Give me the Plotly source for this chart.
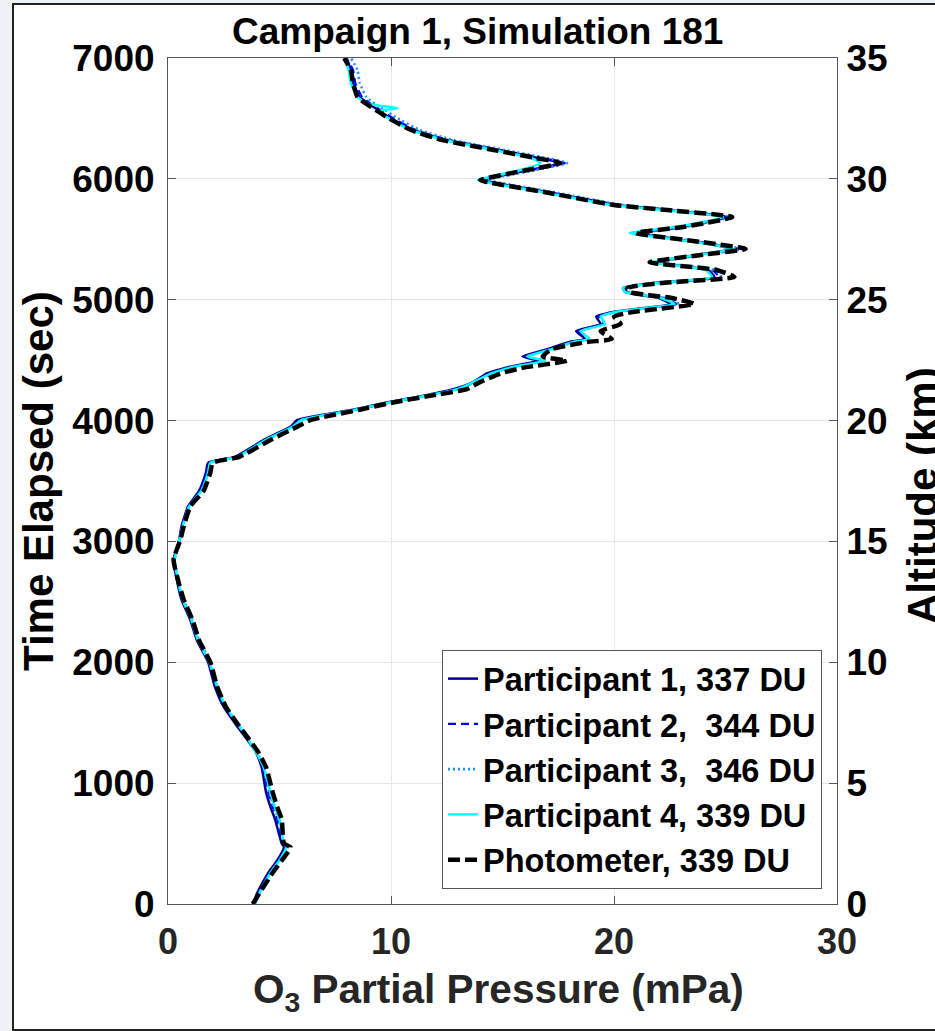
import plotly.graph_objects as go

# Time elapsed (s) shared sampling grid
time_s = [0, 90, 260, 360, 470, 500, 700, 800, 920, 1130,
          1270, 1470, 1630, 1800, 2000, 2180, 2350, 2520, 2680, 2850,
          3010, 3120, 3290, 3420, 3570, 3650, 3700, 3840, 3950, 4005,
          4090, 4150, 4200, 4260, 4310, 4390, 4440, 4495, 4530, 4590,
          4650, 4675, 4740, 4800, 4860, 4900, 4965, 5014, 5064, 5097,
          5138, 5188, 5246, 5310, 5370, 5420, 5478, 5552, 5602, 5684,
          5742, 5784, 5883, 5974, 5990, 6073, 6131, 6172, 6239, 6321,
          6404, 6512, 6560, 6585, 6620, 6677, 6793, 6900, 7000]

# O3 partial pressure (mPa)
participant1 = [3.8, 4.0, 4.5, 4.9, 5.2, 5.1, 4.8, 4.6, 4.4, 4.2,
                3.9, 3.1, 2.5, 2.1, 1.8, 1.3, 1.0, 0.6, 0.4, 0.25,
                0.5, 0.6, 0.9, 1.4, 1.7, 1.8, 3.0, 4.3, 5.5, 5.8,
                8.3, 9.8, 11.3, 12.8, 13.6, 14.3, 15.2, 16.6, 15.9, 17.0,
                18.0, 18.7, 18.3, 19.4, 19.2, 20.0, 22.5, 22.0, 20.5, 20.4,
                21.8, 24.5, 24.2, 21.8, 23.7, 25.3, 23.7, 21.2, 23.0, 25.0,
                22.4, 20.1, 17.2, 14.4, 14.0, 16.2, 17.7, 16.6, 14.8, 12.5,
                11.0, 9.9, 9.5, 9.3, 9.0, 8.6, 8.3, 8.2, 8.0]

participant2 = [3.85, 4.05, 4.55, 4.95, 5.3, 5.15, 4.9, 4.7, 4.5, 4.25,
                3.9, 3.15, 2.55, 2.15, 1.85, 1.35, 1.05, 0.65, 0.42, 0.28,
                0.5, 0.62, 0.92, 1.45, 1.75, 1.85, 3.05, 4.35, 5.55, 5.9,
                8.35, 9.85, 11.35, 12.9, 13.6, 14.4, 15.3, 16.8, 16.0, 17.1,
                18.1, 18.8, 18.4, 19.5, 19.3, 20.1, 22.8, 22.2, 20.6, 20.5,
                22.0, 24.7, 24.4, 21.9, 23.9, 25.6, 23.8, 21.2, 23.1, 25.1,
                22.5, 20.2, 17.3, 14.5, 14.1, 16.3, 17.8, 16.8, 14.9, 12.6,
                11.1, 10.0, 9.6, 9.4, 9.1, 8.7, 8.4, 8.3, 8.0]

participant3 = [3.9, 4.1, 4.6, 5.0, 5.35, 5.2, 4.95, 4.75, 4.55, 4.3,
                3.95, 3.2, 2.6, 2.2, 1.9, 1.4, 1.1, 0.7, 0.45, 0.3,
                0.55, 0.65, 0.95, 1.5, 1.8, 1.9, 3.1, 4.4, 5.6, 6.0,
                8.5, 10.0, 11.5, 13.0, 13.7, 14.5, 15.4, 16.9, 16.1, 17.2,
                18.2, 18.9, 18.5, 19.6, 19.4, 20.2, 22.9, 22.3, 20.7, 20.6,
                22.1, 24.8, 24.5, 22.0, 24.0, 25.7, 23.9, 21.3, 23.2, 25.2,
                22.7, 20.4, 17.5, 14.7, 14.3, 16.5, 17.9, 17.0, 15.1, 12.8,
                11.3, 10.2, 9.8, 9.6, 9.3, 8.9, 8.6, 8.5, 8.2]

participant4 = [3.9, 4.1, 4.6, 5.0, 5.3, 5.2, 5.0, 4.8, 4.6, 4.3,
                3.9, 3.2, 2.6, 2.2, 1.85, 1.35, 1.05, 0.65, 0.45, 0.3,
                0.5, 0.65, 0.95, 1.5, 1.8, 1.9, 3.1, 4.4, 5.6, 6.0,
                8.4, 9.9, 11.4, 13.0, 13.6, 14.5, 15.4, 16.9, 16.1, 17.2,
                18.2, 18.9, 18.5, 19.6, 19.4, 20.1, 22.7, 22.1, 20.5, 20.4,
                21.9, 24.4, 24.1, 21.7, 23.8, 25.4, 23.6, 20.7, 22.8, 24.9,
                22.2, 19.9, 17.0, 14.2, 13.9, 15.8, 16.7, 16.3, 14.6, 12.4,
                10.9, 9.8, 9.4, 10.3, 9.0, 8.5, 8.2, 8.1, 7.9]

photometer = [3.8, 4.1, 4.7, 5.1, 5.5, 5.2, 5.1, 4.9, 4.7, 4.4,
              4.0, 3.2, 2.6, 2.2, 1.9, 1.4, 1.1, 0.7, 0.45, 0.25,
              0.55, 0.7, 1.0, 1.6, 1.9, 2.0, 3.2, 4.6, 5.8, 6.4,
              8.6, 10.1, 11.6, 13.4, 13.9, 14.9, 16.0, 17.9, 16.8, 17.2,
              18.8, 19.9, 19.4, 20.3, 20.0, 20.9, 23.6, 22.6, 20.7, 20.6,
              22.1, 25.4, 24.6, 21.6, 23.9, 25.9, 23.9, 21.0, 23.1, 25.3,
              22.4, 20.0, 17.1, 14.3, 14.0, 16.1, 17.6, 16.5, 14.6, 12.3,
              10.9, 9.8, 9.4, 9.2, 8.9, 8.5, 8.3, 8.2, 7.9]

series_names = ["Participant 1, 337 DU", "Participant 2,  344 DU",
                "Participant 3,  346 DU", "Participant 4, 339 DU",
                "Photometer, 339 DU"]

x_ticks = [0, 10, 20, 30]
y_ticks = [0, 1000, 2000, 3000, 4000, 5000, 6000, 7000]
alt_ticks = [0, 5, 10, 15, 20, 25, 30, 35]

FONT = "Liberation Sans, Arial, sans-serif"

styles = [
    dict(color="#00008f", width=2.5, dash="solid"),
    dict(color="#0000ff", width=2.2, dash="8px,5px"),
    dict(color="#1e8fff", width=2.6, dash="2px,3px"),
    dict(color="#00ffff", width=2.5, dash="solid"),
    dict(color="#000000", width=4.5, dash="12px,5px"),
]

fig = go.Figure()
for name, vals, st in zip(series_names,
                          [participant1, participant2, participant3, participant4, photometer],
                          styles):
    fig.add_trace(go.Scatter(x=vals, y=time_s, mode="lines", name=name,
                             line=dict(color=st["color"], width=st["width"], dash=st["dash"],
                                       shape="spline", smoothing=0.5)))

# Right-hand altitude axis
fig.add_trace(go.Scatter(x=[None], y=[None], yaxis="y2", showlegend=False, hoverinfo="skip"))

W, H = 935, 1031
L, R, T, B = 168, 98, 58, 127
pw, ph = W - L - R, H - T - B


def px(xp):
    return (xp - L) / pw


def py(yp):
    return (H - B - yp) / ph


axis_common = dict(
    showline=True, linecolor="#555555", linewidth=1,
    ticks="inside", ticklen=8, tickcolor="#555555", tickwidth=1,
    showgrid=True, gridcolor="#e6e6e6", gridwidth=1, zeroline=False,
)

fig.update_layout(
    width=W, height=H,
    margin=dict(l=L, r=R, t=T, b=B),
    paper_bgcolor="#eef2f6",
    plot_bgcolor="#ffffff",
    font=dict(family=FONT, color="#000000"),
    xaxis=dict(range=[0, 30], tickvals=x_ticks, mirror="ticks",
               tickfont=dict(family=FONT, size=36, color="#262626", weight="bold"),
               ticklabelstandoff=6, **axis_common),
    yaxis=dict(range=[0, 7000], tickvals=y_ticks, mirror="ticks",
               tickfont=dict(family=FONT, size=37, color="#000000", weight="bold"),
               ticklabelstandoff=5, **axis_common),
    yaxis2=dict(range=[0, 35], tickvals=alt_ticks, overlaying="y", side="right", anchor="x",
                showline=True, linecolor="#555555", ticks="inside", ticklen=8,
                tickcolor="#555555", showgrid=False, zeroline=False,
                tickfont=dict(family=FONT, size=37, color="#000000", weight="bold"),
                ticklabelstandoff=1),
    legend=dict(x=px(822), y=py(889), xanchor="right", yanchor="bottom",
                bgcolor="#ffffff", bordercolor="#555555", borderwidth=1,
                font=dict(family=FONT, size=32.5, color="#000000", weight="bold"),
                tracegroupgap=0, itemwidth=30),
    showlegend=True,
    shapes=[dict(type="rect", xref="paper", yref="paper",
                 x0=px(13), x1=px(990), y0=py(1030), y1=py(4),
                 fillcolor="#ffffff", line=dict(color="#222222", width=2), layer="below")],
    annotations=[
        dict(text="Campaign 1, Simulation 181", xref="paper", yref="paper",
             x=px(477.5), y=py(31), xanchor="center", yanchor="middle", showarrow=False,
             font=dict(family=FONT, size=37, color="#000000", weight="bold")),
        dict(text="O<sub>3</sub> Partial Pressure (mPa)", xref="paper", yref="paper",
             x=px(498.5), y=py(992), xanchor="center", yanchor="middle", showarrow=False,
             font=dict(family=FONT, size=40.5, color="#262626", weight="bold")),
        dict(text="Time Elapsed (sec)", xref="paper", yref="paper", textangle=-90,
             x=px(38), y=py(481), xanchor="center", yanchor="middle", showarrow=False,
             font=dict(family=FONT, size=42, color="#000000", weight="bold")),
        dict(text="Altitude (km)", xref="paper", yref="paper", textangle=-90,
             x=px(922), y=py(496), xanchor="center", yanchor="middle", showarrow=False,
             font=dict(family=FONT, size=42, color="#000000", weight="bold")),
    ],
)

fig.write_html("out.html")
